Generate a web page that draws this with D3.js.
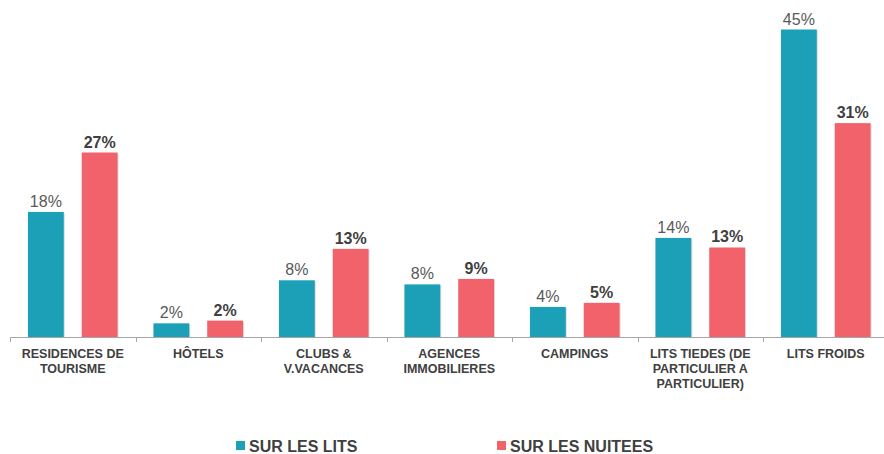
<!DOCTYPE html>
<html>
<head>
<meta charset="utf-8">
<title>Lits et nuitees</title>
<script src="https://d3js.org/d3.v7.min.js"></script>
<style>
  body { margin: 0; background: #fff; }
  svg { font-family: "Liberation Sans", Arial, sans-serif; }
</style>
</head>
<body>
<svg id="chart"></svg>
<script>
// categories (line breaks as in the picture)
let categories = [
  "RESIDENCES DE\nTOURISME",
  "HÔTELS",
  "CLUBS &\nV.VACANCES",
  "AGENCES\nIMMOBILIERES",
  "CAMPINGS",
  "LITS TIEDES (DE\nPARTICULIER A\nPARTICULIER)",
  "LITS FROIDS"
];
let series = ["SUR LES LITS", "SUR LES NUITEES"];
// bar heights (%)
let lits = [18.3, 2.0, 8.3, 7.7, 4.4, 14.5, 45];
let nuitees = [27, 2.4, 12.9, 8.5, 5.0, 13.1, 31.3];
// printed labels
let litsLabels = ["18%", "2%", "8%", "8%", "4%", "14%", "45%"];
let nuiteesLabels = ["27%", "2%", "13%", "9%", "5%", "13%", "31%"];
let colors = ["#1ca0b8", "#f2626a"];

let width = 884, height = 454;
let svg = d3.select("#chart").attr("width", width).attr("height", height);

let baseY = 337;

let x = d3.scaleBand()
  .domain(categories)
  .range([10, 888.5]);

let xs = d3.scaleBand()
  .domain(series)
  .range([0, x.bandwidth()])
  .paddingInner(1 / 3)
  .paddingOuter(1 / 3);

let y = d3.scaleLinear()
  .domain([0, 45])
  .range([baseY, 29.5]);

let rows = categories.map((c, i) => ({
  cat: c,
  vals: [lits[i], nuitees[i]],
  labs: [litsLabels[i], nuiteesLabels[i]]
}));

let groups = svg.append("g").selectAll("g")
  .data(rows)
  .join("g")
  .attr("transform", d => "translate(" + x(d.cat) + ",0)");

let cells = d => d.vals.map((v, j) => ({s: series[j], v: v, j: j, lab: d.labs[j]}));

// faint shadow on the right side of each bar
groups.selectAll("rect.shadow")
  .data(cells)
  .join("rect")
  .attr("class", "shadow")
  .attr("x", d => xs(d.s) + 1)
  .attr("y", d => y(d.v) + 1)
  .attr("width", xs.bandwidth())
  .attr("height", d => baseY - y(d.v) - 1)
  .attr("fill", "#dcdcdc");

groups.selectAll("rect.bar")
  .data(cells)
  .join("rect")
  .attr("class", "bar")
  .attr("x", d => xs(d.s))
  .attr("y", d => y(d.v))
  .attr("width", xs.bandwidth())
  .attr("height", d => baseY - y(d.v))
  .attr("fill", d => colors[d.j]);

groups.selectAll("text.val")
  .data(cells)
  .join("text")
  .attr("class", "val")
  .attr("x", d => xs(d.s) + xs.bandwidth() / 2)
  .attr("y", d => y(d.v) - 5)
  .attr("text-anchor", "middle")
  .style("font-size", "16px")
  .style("font-weight", d => d.j == 1 ? "bold" : "normal")
  .attr("fill", d => d.j == 1 ? "#404040" : "#595959")
  .text(d => d.lab);

// axis line + ticks at category boundaries
let axis = svg.append("g").attr("stroke", "#a6a6a6").attr("stroke-width", 1);
axis.append("line")
  .attr("x1", 10).attr("x2", width)
  .attr("y1", baseY + 0.5).attr("y2", baseY + 0.5);
axis.selectAll("line.tick")
  .data(categories)
  .join("line")
  .attr("class", "tick")
  .attr("x1", d => Math.round(x(d)) + 0.5)
  .attr("x2", d => Math.round(x(d)) + 0.5)
  .attr("y1", baseY)
  .attr("y2", baseY + 5);

// category labels
let labels = svg.append("g").selectAll("text")
  .data(categories)
  .join("text")
  .attr("x", d => x(d) + x.bandwidth() / 2)
  .attr("y", 358)
  .attr("text-anchor", "middle")
  .attr("fill", "#404040")
  .style("font-size", "12.5px")
  .style("font-weight", "bold");

labels.selectAll("tspan")
  .data(d => d.split("\n"))
  .join("tspan")
  .attr("x", function() { return this.parentNode.getAttribute("x"); })
  .attr("dy", (d, i) => i == 0 ? 0 : 15)
  .text(d => d);

// legend
let legendX = [236, 497];
let legend = svg.append("g").selectAll("g")
  .data(series)
  .join("g")
  .attr("transform", (d, i) => "translate(" + legendX[i] + ",441)");
legend.append("rect")
  .attr("width", 9).attr("height", 9)
  .attr("fill", (d, i) => colors[i]);
legend.append("text")
  .attr("x", 13)
  .attr("y", 10.5)
  .attr("fill", "#404040")
  .style("font-size", "16px")
  .style("font-weight", "bold")
  .text(d => d);
</script>
</body>
</html>
